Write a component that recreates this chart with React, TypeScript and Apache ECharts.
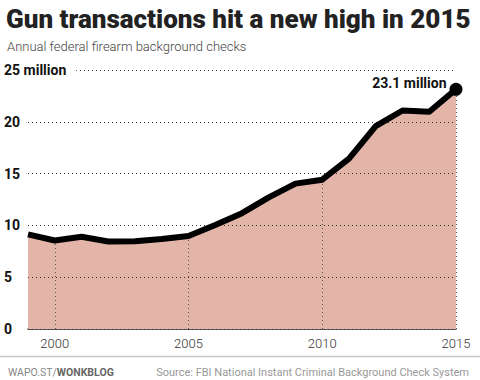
import React, { useEffect, useRef } from "react";
import * as echarts from "echarts";

const years = [1999, 2000, 2001, 2002, 2003, 2004, 2005, 2006, 2007, 2008, 2009, 2010, 2011, 2012, 2013, 2014, 2015];
const checks = [9.14, 8.54, 8.91, 8.45, 8.48, 8.69, 8.97, 10.04, 11.18, 12.71, 14.03, 14.41, 16.45, 19.59, 21.09, 20.97, 23.14];
const markYears = [2000, 2005, 2010, 2015];
const yTicks = [0, 5, 10, 15, 20, 25];

const TITLE = "Gun transactions hit a new high in 2015";
const SUBTITLE = "Annual federal firearm background checks";
const SOURCE = "Source: FBI National Instant Criminal Background Check System";

export default function App() {
  const ref = useRef<HTMLDivElement>(null);
  useEffect(() => {
    document.body.style.margin = "0";
    const chart = echarts.init(ref.current!, null, { renderer: "svg" });
    const pts = years.map((y, i) => [y, checks[i]]);
    const lastIdx = years.length - 1;
    chart.setOption({
      animation: false,
      backgroundColor: "#fff",
      title: [
        {
          text: TITLE,
          left: 1,
          top: 1,
          textStyle: { fontFamily: "Roboto", fontWeight: 900, fontSize: 26, color: "#222" },
        },
        {
          text: SUBTITLE,
          left: 2,
          top: 35,
          textStyle: { fontFamily: "Roboto", fontWeight: 300, fontSize: 13, color: "#444" },
        },
        {
          text: "{a|WAPO.ST/}{b|WONKBLOG}",
          left: 3,
          top: 362,
          textStyle: {
            fontWeight: "normal",
            rich: {
              a: { fontFamily: "Roboto", fontSize: 10.5, fontWeight: "normal", color: "#888" },
              b: { fontFamily: "Roboto", fontSize: 10.5, fontWeight: "bold", color: "#666" },
            },
          },
        },
        {
          text: SOURCE,
          right: 6,
          top: 362,
          textStyle: { fontFamily: "Roboto", fontSize: 11, color: "#999", fontWeight: "normal" },
        },
      ],
      graphic: [
        {
          type: "line",
          z: 20,
          shape: { x1: 0, y1: 356.5, x2: 480, y2: 356.5 },
          style: { stroke: "#c8c8c8", lineWidth: 1.5 },
        },
      ],
      grid: { left: 28, right: 24, top: 70, bottom: 51, containLabel: false },
      xAxis: {
        type: "value",
        min: 1999,
        max: 2015,
        interval: 1,
        axisLine: { show: true, lineStyle: { color: "#222", width: 1.5 } },
        axisTick: { show: false },
        splitLine: { show: false },
        axisLabel: {
          margin: 8,
          fontFamily: "Roboto",
          fontSize: 13,
          fontWeight: 300,
          color: "#333",
          formatter: (v: number) => (markYears.includes(v) ? String(v) : ""),
          showMinLabel: false,
        },
      },
      yAxis: {
        type: "value",
        min: 0,
        max: 25,
        interval: 5,
        z: 3,
        axisLine: { show: false },
        axisTick: { show: false },
        splitLine: { show: true, lineStyle: { color: "#333", type: [1, 3], width: 1 } },
        axisLabel: {
          align: "left",
          margin: 24,
          fontFamily: "Roboto",
          fontWeight: "bold",
          fontSize: 14,
          color: "#111",
          formatter: (v: number) => (v === yTicks[yTicks.length - 1] ? "{top|" + v + " million}" : String(v)),
          rich: {
            top: {
              fontFamily: "Roboto",
              fontWeight: "bold",
              fontSize: 14,
              color: "#111",
              backgroundColor: "#fff",
              padding: [2, 10, 2, 0],
            },
          },
        },
      },
      series: [
        {
          type: "line",
          data: pts,
          symbol: "none",
          z: 1,
          lineStyle: { width: 0 },
          areaStyle: { color: "#e3b5a8", opacity: 1 },
          markLine: {
            silent: true,
            symbol: "none",
            label: { show: false },
            lineStyle: { color: "#555", type: [1, 3], width: 1 },
            data: markYears.map((y) => [
              { coord: [y, 0] },
              { coord: [y, checks[years.indexOf(y)]] },
            ]),
          },
        },
        {
          type: "line",
          data: pts,
          symbol: "none",
          z: 10,
          lineStyle: { color: "#000", width: 6, join: "round" },
        },
        {
          type: "scatter",
          data: [pts[lastIdx]],
          z: 11,
          symbolSize: 13,
          itemStyle: { color: "#000", opacity: 1 },
          label: {
            show: true,
            position: "left",
            offset: [2, -6],
            formatter: (p: any) => p.value[1].toFixed(1) + " million",
            fontFamily: "Roboto",
            fontWeight: "bold",
            fontSize: 14,
            color: "#111",
          },
        },
      ],
    });
    return () => chart.dispose();
  }, []);
  return <div ref={ref} style={{ width: 480, height: 380 }} />;
}
